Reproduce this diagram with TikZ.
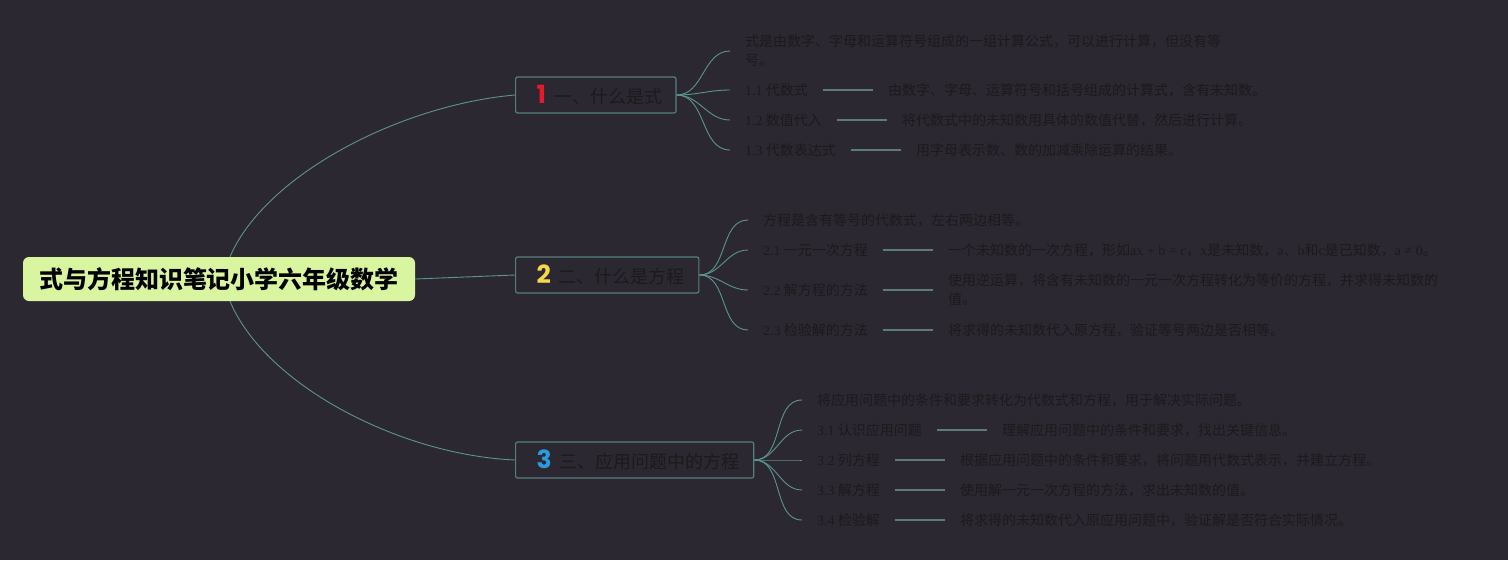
\documentclass[tikz,border=0pt]{standalone}
\usepackage{fontspec}
\setmainfont{Liberation Serif}
\newfontfamily\cjk{Noto Sans CJK SC}
\newfontfamily\numf{Poppins}
\usetikzlibrary{positioning}
\definecolor{bg}{HTML}{2C2831}
\definecolor{rootfill}{HTML}{DAF5A0}
\definecolor{boxline}{HTML}{557F7E}
\definecolor{fanc}{HTML}{5A9590}
\definecolor{barc}{HTML}{5B7B7D}
\definecolor{txt}{HTML}{1B1A1D}
\definecolor{nred}{HTML}{E8192C}
\definecolor{nyel}{HTML}{F3D84A}
\definecolor{nblu}{HTML}{2A9BE0}
\newcommand{\lat}[1]{{\rmfamily #1}}
\newcommand{\numb}[2]{\hspace*{7pt}{\numf\bfseries\fontsize{25}{25}\selectfont\color{#1}#2}\hspace*{8pt}}
\tikzset{
  rootbox/.style={fill=rootfill, rounded corners=6pt, inner xsep=16pt, minimum height=44pt,
    font=\cjk\bfseries\fontsize{24}{28}\selectfont, text=black},
  branchbox/.style={draw=boxline, line width=1.2pt, fill=bg, rounded corners=2pt,
    minimum height=36pt, inner xsep=14pt, anchor=west, font=\cjk\fontsize{18}{22}\selectfont, text=txt},
  leaf/.style={inner xsep=15pt, inner ysep=2pt, font=\cjk\fontsize{14}{19}\selectfont,
    text=txt, align=left, anchor=west},
  fan/.style={draw=fanc, line width=0.9pt},
  bar/.style={draw=barc, line width=1.6pt},
  node distance=50pt
}
\begin{document}
\begin{tikzpicture}[x=1pt,y=-1pt]
\fill[bg] (0,0) rectangle (1508,560);
\useasboundingbox (0,0) rectangle (1508,560);

\node[rootbox] (r) at (219,279) {式与方程知识笔记小学六年级数学};

\node[branchbox] (b1) at (515,95) {\numb{nred}{1}一、什么是式};
\node[branchbox] (b2) at (515,275) {\numb{nyel}{2}二、什么是方程};
\node[branchbox] (b3) at (515,460) {\numb{nblu}{3}三、应用问题中的方程};

\draw[fan] ([xshift=11pt]r.north) .. controls (265,175) and (400,105) .. (b1.west);
\draw[fan] (r.east) -- (b2.west);
\draw[fan] ([xshift=11pt]r.south) .. controls (265,385) and (400,455) .. (b3.west);

% branch 1
\node[leaf] (a0) at (730,51) {式是由数字、字母和运算符号组成的一组计算公式，可以进行计算，但没有等\\号。};
\node[leaf] (a1) at (730,90) {\lat{1.1} 代数式};
\node[leaf] (a2) at (730,120) {\lat{1.2} 数值代入};
\node[leaf] (a3) at (730,150) {\lat{1.3} 代数表达式};
\node[leaf, right=of a1] (a1d) {由数字、字母、运算符号和括号组成的计算式，含有未知数。};
\node[leaf, right=of a2] (a2d) {将代数式中的未知数用具体的数值代替，然后进行计算。};
\node[leaf, right=of a3] (a3d) {用字母表示数、数的加减乘除运算的结果。};
\foreach \n in {a0,a1,a2,a3} \draw[fan] (b1.east) to[out=0,in=180] (\n.west);
\foreach \n in {a1,a2,a3} \draw[bar] (\n.east) -- (\n d.west);

% branch 2
\node[leaf] (c0) at (748,220) {方程是含有等号的代数式，左右两边相等。};
\node[leaf] (c1) at (748,250) {\lat{2.1} 一元一次方程};
\node[leaf] (c2) at (748,290) {\lat{2.2} 解方程的方法};
\node[leaf] (c3) at (748,330) {\lat{2.3} 检验解的方法};
\node[leaf, right=of c1] (c1d) {一个未知数的一次方程，形如\lat{ax + b = c}，\lat{x}是未知数，\lat{a}、\lat{b}和\lat{c}是已知数，\lat{a ≠ 0}。};
\node[leaf, right=of c2] (c2d) {使用逆运算，将含有未知数的一元一次方程转化为等价的方程，并求得未知数的\\值。};
\node[leaf, right=of c3] (c3d) {将求得的未知数代入原方程，验证等号两边是否相等。};
\foreach \n in {c0,c1,c2,c3} \draw[fan] (b2.east) to[out=0,in=180] (\n.west);
\foreach \n in {c1,c2,c3} \draw[bar] (\n.east) -- (\n d.west);

% branch 3
\node[leaf] (d0) at (802,400) {将应用问题中的条件和要求转化为代数式和方程，用于解决实际问题。};
\node[leaf] (d1) at (802,430) {\lat{3.1} 认识应用问题};
\node[leaf] (d2) at (802,460) {\lat{3.2} 列方程};
\node[leaf] (d3) at (802,490) {\lat{3.3} 解方程};
\node[leaf] (d4) at (802,520) {\lat{3.4} 检验解};
\node[leaf, right=of d1] (d1d) {理解应用问题中的条件和要求，找出关键信息。};
\node[leaf, right=of d2] (d2d) {根据应用问题中的条件和要求，将问题用代数式表示，并建立方程。};
\node[leaf, right=of d3] (d3d) {使用解一元一次方程的方法，求出未知数的值。};
\node[leaf, right=of d4] (d4d) {将求得的未知数代入原应用问题中，验证解是否符合实际情况。};
\foreach \n in {d0,d1,d2,d3,d4} \draw[fan] (b3.east) to[out=0,in=180] (\n.west);
\foreach \n in {d1,d2,d3,d4} \draw[bar] (\n.east) -- (\n d.west);
\end{tikzpicture}
\end{document}
